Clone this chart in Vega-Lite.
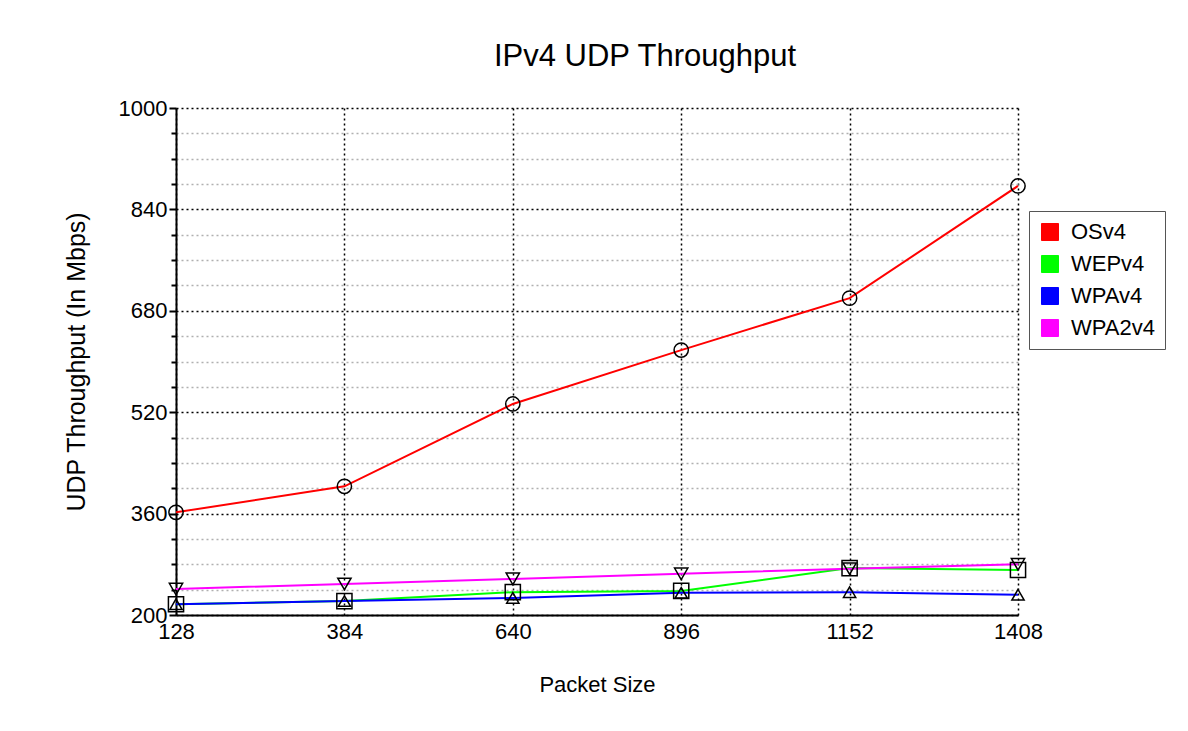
{
  "$schema": "https://vega.github.io/schema/vega-lite/v6.json",
  "width": 842,
  "height": 507,
  "autosize": {"type": "none"},
  "padding": {"left": 176, "top": 108, "right": 170, "bottom": 116},
  "background": "white",
  "config": {
    "font": "Liberation Sans",
    "view": {"stroke": null},
    "axis": {"labelFont": "Liberation Sans", "titleFont": "Liberation Sans", "labelColor": "black", "titleColor": "black", "titleFontWeight": "normal"}
  },
  "title": {"text": "IPv4 UDP Throughput", "fontSize": 31, "fontWeight": "normal", "font": "Liberation Sans", "color": "black", "anchor": "middle", "dx": 48, "offset": 24},
  "data": {
    "values": [
      {"size": 128, "series": "OSv4", "mbps": 362},
      {"size": 384, "series": "OSv4", "mbps": 403},
      {"size": 640, "series": "OSv4", "mbps": 533},
      {"size": 896, "series": "OSv4", "mbps": 618},
      {"size": 1152, "series": "OSv4", "mbps": 700},
      {"size": 1408, "series": "OSv4", "mbps": 877},
      {"size": 128, "series": "WEPv4", "mbps": 217},
      {"size": 384, "series": "WEPv4", "mbps": 222},
      {"size": 640, "series": "WEPv4", "mbps": 236},
      {"size": 896, "series": "WEPv4", "mbps": 238},
      {"size": 1152, "series": "WEPv4", "mbps": 274},
      {"size": 1408, "series": "WEPv4", "mbps": 271},
      {"size": 128, "series": "WPAv4", "mbps": 217},
      {"size": 384, "series": "WPAv4", "mbps": 222},
      {"size": 640, "series": "WPAv4", "mbps": 227},
      {"size": 896, "series": "WPAv4", "mbps": 235},
      {"size": 1152, "series": "WPAv4", "mbps": 236},
      {"size": 1408, "series": "WPAv4", "mbps": 232},
      {"size": 128, "series": "WPA2v4", "mbps": 241},
      {"size": 384, "series": "WPA2v4", "mbps": 249},
      {"size": 640, "series": "WPA2v4", "mbps": 257},
      {"size": 896, "series": "WPA2v4", "mbps": 265},
      {"size": 1152, "series": "WPA2v4", "mbps": 273},
      {"size": 1408, "series": "WPA2v4", "mbps": 280}
    ]
  },
  "resolve": {"axis": {"y": "independent"}},
  "layer": [
    {
      "mark": {"type": "point", "filled": false, "stroke": "black", "strokeWidth": 1.5, "size": 150, "opacity": 0},
      "encoding": {
        "x": {
          "field": "size", "type": "quantitative",
          "scale": {"domain": [128, 1408], "nice": false, "zero": false},
          "axis": {
            "values": [128, 384, 640, 896, 1152, 1408], "format": "d", "labelFlush": false,
            "title": "Packet Size", "titleFontSize": 22, "titlePadding": 32,
            "labelFontSize": 22, "labelPadding": 6, "ticks": false,
            "domainColor": "black", "domainWidth": 2,
            "grid": true, "gridColor": "black", "gridDash": [2, 3], "gridWidth": 1.5
          }
        },
        "y": {
          "field": "mbps", "type": "quantitative",
          "scale": {"domain": [200, 1000], "nice": false, "zero": false},
          "axis": {
            "orient": "left",
            "values": [240, 280, 320, 400, 440, 480, 560, 600, 640, 720, 760, 800, 880, 920, 960],
            "title": null, "labels": false, "domain": false,
            "tickSize": 5, "tickColor": "black", "tickWidth": 2,
            "grid": true, "gridColor": "#b0b0b0", "gridDash": [2, 3], "gridWidth": 1.5
          }
        }
      }
    },
    {
      "mark": {"type": "line", "strokeWidth": 2},
      "encoding": {
        "x": {"field": "size", "type": "quantitative"},
        "y": {
          "field": "mbps", "type": "quantitative",
          "scale": {"domain": [200, 1000], "nice": false, "zero": false},
          "axis": {
            "orient": "left",
            "values": [200, 360, 520, 680, 840, 1000], "format": "d", "labelFlush": false,
            "title": "UDP Throughput (In Mbps)", "titleFontSize": 25, "titlePadding": 29,
            "labelFontSize": 22, "labelPadding": 2, "tickSize": 7, "tickColor": "black", "tickWidth": 2,
            "domainColor": "black", "domainWidth": 2,
            "grid": true, "gridColor": "black", "gridDash": [2, 3], "gridWidth": 1.5
          }
        },
        "color": {
          "field": "series", "type": "nominal",
          "scale": {"domain": ["OSv4", "WEPv4", "WPAv4", "WPA2v4"], "range": ["#ff0000", "#00ff00", "#0000ff", "#ff00ff"]},
          "legend": {
            "title": null, "orient": "none", "legendX": 853, "legendY": 103,
            "symbolType": "square", "symbolSize": 289, "symbolStrokeColor": "#444", "symbolStrokeWidth": 1,
            "symbolFillColor": "white",
            "labelFontSize": 22, "labelFont": "Liberation Sans", "labelColor": "black",
            "rowPadding": 10, "padding": 10, "strokeColor": "#555", "fillColor": "white",
            "labelOffset": 10,
            "encode": {"symbols": {"update": {
              "fill": {"scale": "color", "field": "value"},
              "fillOpacity": {"value": 1},
              "stroke": {"value": "#444"},
              "strokeWidth": {"value": 1}
            }}}
          }
        },
        "order": {"field": "series"}
      }
    },
    {
      "mark": {"type": "point", "filled": false, "stroke": "black", "strokeWidth": 1.5, "opacity": 1},
      "encoding": {
        "x": {"field": "size", "type": "quantitative"},
        "y": {"field": "mbps", "type": "quantitative", "axis": null},
        "shape": {
          "field": "series", "type": "nominal",
          "scale": {"domain": ["WPA2v4", "WPAv4", "WEPv4", "OSv4"], "range": ["triangle-down", "triangle-up", "square", "circle"]},
          "legend": null
        },
        "size": {
          "field": "series", "type": "nominal",
          "scale": {"domain": ["WEPv4", "OSv4", "WPA2v4", "WPAv4"], "range": [230, 150, 200, 200]},
          "legend": null
        }
      }
    }
  ]
}
